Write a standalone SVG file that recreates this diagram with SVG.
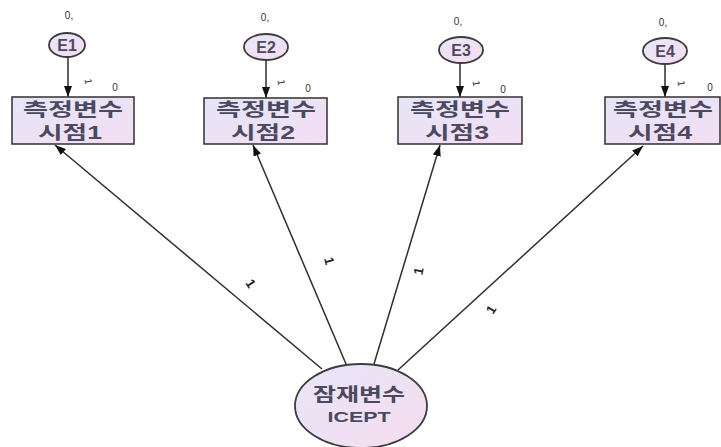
<svg xmlns="http://www.w3.org/2000/svg" width="721" height="447" viewBox="0 0 721 447">
  <defs>
    <linearGradient id="boxFill" x1="0" y1="0" x2="1" y2="1">
      <stop offset="0" stop-color="#e4e6f6"/>
      <stop offset="1" stop-color="#f4def4"/>
    </linearGradient>
    <linearGradient id="ovalFill" x1="0" y1="0" x2="1" y2="1">
      <stop offset="0" stop-color="#e8e6f8"/>
      <stop offset="1" stop-color="#f6dcf0"/>
    </linearGradient>
    <marker id="arrow" markerUnits="userSpaceOnUse" markerWidth="12" markerHeight="8" refX="11" refY="4" orient="auto">
      <path d="M0,0 L11,4 L0,8 z" fill="#111"/>
    </marker>
    <style>
      .box { fill: url(#boxFill); stroke: #3c3c3c; stroke-width: 1.6; }
      .oval { fill: url(#ovalFill); stroke: #3c3c3c; stroke-width: 1.8; }
      .edge { stroke: #2e2e2e; stroke-width: 1.5; fill: none; marker-end: url(#arrow); }
      .lbl { font-family: "Liberation Sans", "Noto Sans CJK KR", sans-serif; font-weight: bold; fill: #4b4960; text-anchor: middle; }
      .kr { font-size: 18px; }
      .en { font-size: 15px; }
      .err { font-size: 16px; }
      .tiny { font-family: "Liberation Sans", sans-serif; font-size: 10px; fill: #333; text-anchor: middle; }
      .one { font-family: "Liberation Sans", sans-serif; font-size: 13px; font-weight: bold; fill: #222; text-anchor: middle; }
    </style>
  </defs>

  <!-- connectors -->
  <g id="connectors">
    <line class="edge" x1="68" y1="57" x2="68" y2="97"/>
    <line class="edge" x1="266" y1="61" x2="266" y2="98"/>
    <line class="edge" x1="460" y1="63" x2="460" y2="97"/>
    <line class="edge" x1="665" y1="64" x2="665" y2="97"/>

    <line class="edge" x1="322" y1="369" x2="55" y2="145"/>
    <line class="edge" x1="346" y1="364" x2="253" y2="145"/>
    <line class="edge" x1="374" y1="364" x2="440" y2="145"/>
    <line class="edge" x1="398" y1="370" x2="643" y2="146"/>

    <!-- regression weights -->
    <text class="one" transform="translate(247,286) rotate(56)">1</text>
    <text class="one" transform="translate(325,262) rotate(75)">1</text>
    <text class="one" transform="translate(423,272) rotate(-79)">1</text>
    <text class="one" transform="translate(495,312) rotate(-58)">1</text>

    <text class="tiny" transform="translate(85,82) rotate(80)">1</text>
    <text class="tiny" transform="translate(278,83) rotate(80)">1</text>
    <text class="tiny" transform="translate(473,84) rotate(80)">1</text>
    <text class="tiny" transform="translate(678,84) rotate(80)">1</text>
  </g>

  <!-- error terms -->
  <g id="E1">
    <text class="tiny" x="69" y="19">0,</text>
    <ellipse class="oval" cx="67" cy="45" rx="18" ry="12"/>
    <text class="lbl err" x="67" y="51">E1</text>
  </g>
  <g id="E2">
    <text class="tiny" x="265" y="21">0,</text>
    <ellipse class="oval" cx="266" cy="47" rx="22" ry="13"/>
    <text class="lbl err" x="266" y="53">E2</text>
  </g>
  <g id="E3">
    <text class="tiny" x="458" y="25">0,</text>
    <ellipse class="oval" cx="461" cy="50" rx="22" ry="13"/>
    <text class="lbl err" x="461" y="56">E3</text>
  </g>
  <g id="E4">
    <text class="tiny" x="663" y="26">0,</text>
    <ellipse class="oval" cx="665" cy="51" rx="22" ry="13"/>
    <text class="lbl err" x="665" y="57">E4</text>
  </g>

  <!-- observed variables -->
  <g id="V1">
    <text class="tiny" x="115" y="91">0</text>
    <rect class="box" x="12" y="97" width="122" height="47"/>
    <text class="lbl kr" x="73" y="116" textLength="100" lengthAdjust="spacingAndGlyphs">측정변수</text>
    <text class="lbl kr" x="70" y="139" textLength="64" lengthAdjust="spacingAndGlyphs">시점1</text>
  </g>
  <g id="V2">
    <text class="tiny" x="308" y="92">0</text>
    <rect class="box" x="204" y="98" width="123" height="46"/>
    <text class="lbl kr" x="266" y="116" textLength="100" lengthAdjust="spacingAndGlyphs">측정변수</text>
    <text class="lbl kr" x="263" y="139" textLength="64" lengthAdjust="spacingAndGlyphs">시점2</text>
  </g>
  <g id="V3">
    <text class="tiny" x="503" y="93">0</text>
    <rect class="box" x="398" y="97" width="124" height="47"/>
    <text class="lbl kr" x="460" y="116" textLength="100" lengthAdjust="spacingAndGlyphs">측정변수</text>
    <text class="lbl kr" x="457" y="139" textLength="64" lengthAdjust="spacingAndGlyphs">시점3</text>
  </g>
  <g id="V4">
    <text class="tiny" x="710" y="91">0</text>
    <rect class="box" x="605" y="97" width="115" height="47"/>
    <text class="lbl kr" x="663" y="116" textLength="100" lengthAdjust="spacingAndGlyphs">측정변수</text>
    <text class="lbl kr" x="660" y="139" textLength="64" lengthAdjust="spacingAndGlyphs">시점4</text>
  </g>

  <!-- latent variable -->
  <g id="ICEPT">
    <ellipse class="oval" cx="361" cy="406" rx="66" ry="42"/>
    <text class="lbl kr" x="359" y="401" textLength="92" lengthAdjust="spacingAndGlyphs">잠재변수</text>
    <text class="lbl en" x="359" y="422" textLength="63" lengthAdjust="spacingAndGlyphs">ICEPT</text>
  </g>
</svg>
